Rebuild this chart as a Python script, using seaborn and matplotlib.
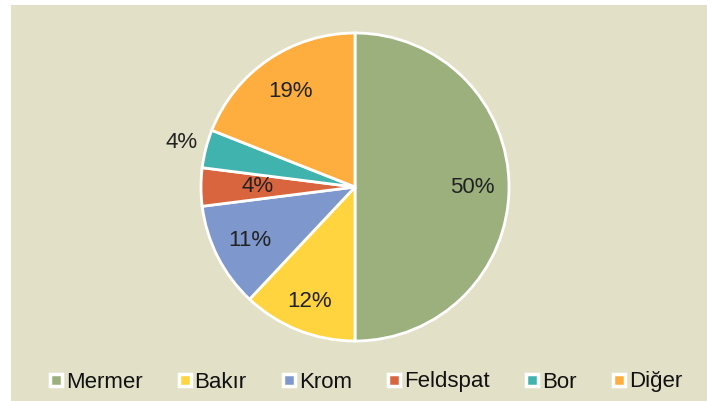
import matplotlib.pyplot as plt
from matplotlib.lines import Line2D
import numpy as np
import seaborn as sns

# Data
labels = ["Mermer", "Bakır", "Krom", "Feldspat", "Bor", "Diğer"]
values = [50, 12, 11, 4, 4, 19]
hex_colors = ["#9BB07D", "#FFD43F", "#7E97CC", "#D9653F", "#41B3AF", "#FDAE3E"]
# distance of each percent label from the centre (fraction of radius)
label_dist = [0.76, 0.80, 0.77, 0.63, 1.16, 0.75]

sns.set_style("white")
plt.rcParams['font.family'] = ['Liberation Sans', 'DejaVu Sans']
palette = sns.color_palette(hex_colors)

fig = plt.figure(figsize=(7.07, 4.01), dpi=100)
fig.patch.set_facecolor("white")

# beige chart area
bg = fig.add_axes([11 / 707, 0, 1 - 11 / 707, 1 - 5 / 401])
bg.set_facecolor("#E2E1C8")
bg.set_xticks([])
bg.set_yticks([])
for s in bg.spines.values():
    s.set_visible(False)

ax = fig.add_axes([201 / 707, 60 / 401, 308 / 707, 308 / 401])
ax.set_facecolor("none")
wedges, _ = ax.pie(values, colors=palette, startangle=90, counterclock=False,
                   wedgeprops=dict(edgecolor="white", linewidth=2, clip_on=False))
ax.set_xlim(-1.0, 1.0)
ax.set_ylim(-1.0, 1.0)
ax.set_aspect("equal")
ax.axis("off")

for w, v, d in zip(wedges, values, label_dist):
    ang = np.deg2rad((w.theta1 + w.theta2) / 2)
    ax.text(d * np.cos(ang), d * np.sin(ang), f"{v}%", ha="center", va="center",
            fontsize=16, color="#222222")

handles = [Line2D([], [], marker="s", linestyle="none", markersize=8.5,
                  markerfacecolor=c, markeredgecolor="white", markeredgewidth=2.5)
           for c in palette]
fig.legend(handles, labels, loc="center", bbox_to_anchor=(0.517, 1 - 382 / 401),
           ncol=6, frameon=False, fontsize=16, handlelength=0.6,
           handletextpad=0.15, columnspacing=1.6, labelcolor="#111111")

fig.savefig("out.png", dpi=100)
